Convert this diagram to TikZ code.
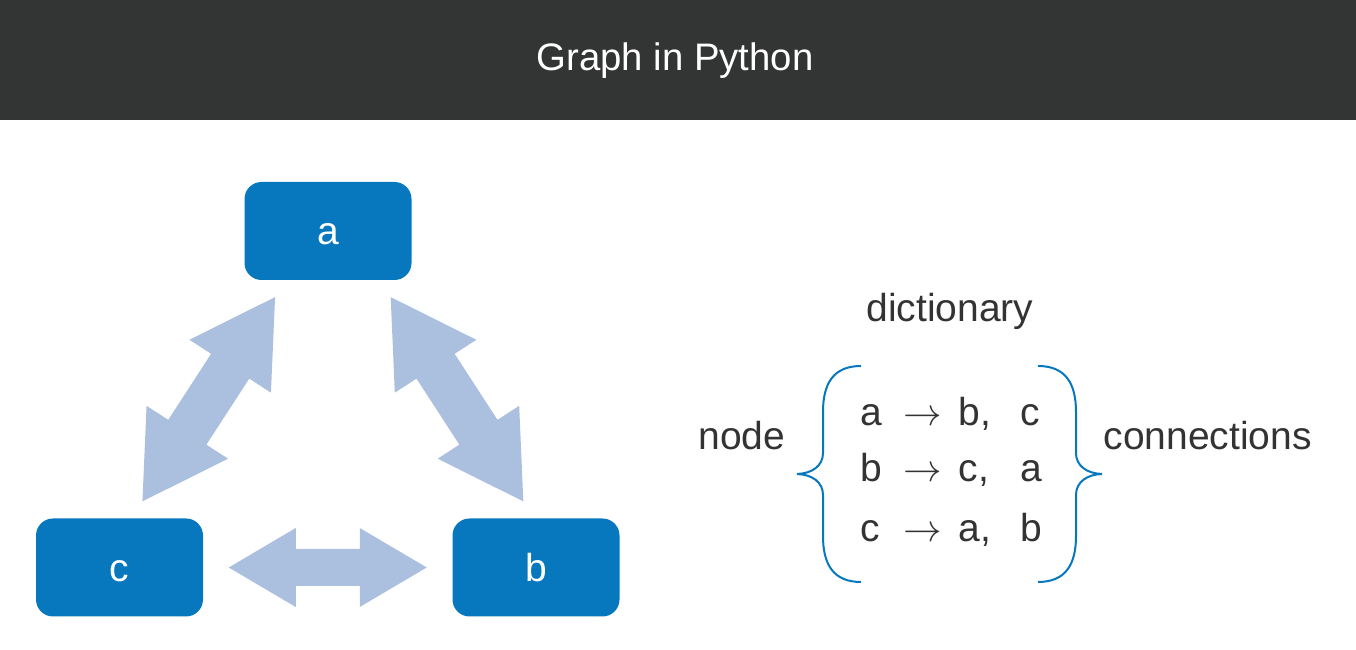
\documentclass[tikz,border=0pt]{standalone}
\usepackage{fontspec}
\setmainfont{Liberation Sans}
\usepackage{tikz}
\usetikzlibrary{calc}
\definecolor{titlegray}{RGB}{51,52,52}
\definecolor{nodeblue}{RGB}{7,119,190}
\definecolor{arrowblue}{RGB}{171,191,222}
\definecolor{textgray}{RGB}{51,51,51}
\tikzstyle{vertex} = [rectangle, rounded corners=0.17cm, fill=nodeblue,
                     text=white, minimum width=1.67cm, minimum height=0.98cm,
                     text height=0.28cm, text depth=0cm,
                     font=\fontsize{11.1}{13}\selectfont]
\tikzstyle{txt} = [inner sep=0pt, text=textgray,
                     font=\fontsize{11.1}{13}\selectfont]
\tikzstyle{bracestroke} = [draw=nodeblue, line width=0.02cm]
\tikzset{fatarrow/.pic={
  \fill[arrowblue] (-0.99,0) -- (-0.32,0.395) -- (-0.32,0.185) -- (0.32,0.185) -- (0.32,0.395)
    -- (0.99,0) -- (0.32,-0.395) -- (0.32,-0.185) -- (-0.32,-0.185) -- (-0.32,-0.395) -- cycle;},
  curly/.pic={
  \draw[bracestroke] (0.64,1.08) .. controls (0.36,1.08) and (0.26,0.9) .. (0.26,0.62) -- (0.26,0.21)
    .. controls (0.26,0.08) and (0.15,0.005) .. (0,0) .. controls (0.15,-0.005) and (0.26,-0.08) .. (0.26,-0.21)
    -- (0.26,-0.62) .. controls (0.26,-0.9) and (0.36,-1.08) .. (0.64,-1.08);}}
\begin{document}
\begin{tikzpicture}
\useasboundingbox (0,0) rectangle (13.56,6.50);
%Title
\fill[titlegray] (0,5.30) rectangle (13.56,6.50);
\node[txt, text=white, font=\fontsize{10.9}{13}\selectfont, anchor=base] at (6.75,5.79) (title){Graph in Python};

% Nodes
\node[vertex] at (3.28,4.19) (a){a};
\node[vertex] at (1.195,0.825) (c){c};
\node[vertex] at (5.36,0.825) (b){b};

% Connections
\pic at ($(c)!0.5!(b)$) {fatarrow};
\pic[rotate=57, scale=1.23] at ($(a)!0.5!(c)+(-0.15,0)$) {fatarrow};
\pic[rotate=-57, scale=1.23] at ($(a)!0.5!(b)+(0.25,0)$) {fatarrow};

% Dictionary
\node[txt, anchor=base] at (9.50,3.283) (dict){dictionary};
\node[txt, anchor=base east] at (7.86,2.00) (key){node};
\node[txt, anchor=base west] at (11.03,2.00) (conn){connections};
\node[txt, anchor=base west] at (8.60,2.24) (row1){\makebox[0.43cm][l]{a}\makebox[0.55cm][l]{$\rightarrow$}\makebox[0.62cm][l]{b,}c};
\node[txt, anchor=base west] at (8.60,1.683) (row2){\makebox[0.43cm][l]{b}\makebox[0.55cm][l]{$\rightarrow$}\makebox[0.62cm][l]{c,}a};
\node[txt, anchor=base west] at (8.60,1.083) (row3){\makebox[0.43cm][l]{c}\makebox[0.55cm][l]{$\rightarrow$}\makebox[0.62cm][l]{a,}b};
\pic at (7.97,1.76) {curly};
\pic[xscale=-1] at (11.02,1.76) {curly};
\end{tikzpicture}
\end{document}
